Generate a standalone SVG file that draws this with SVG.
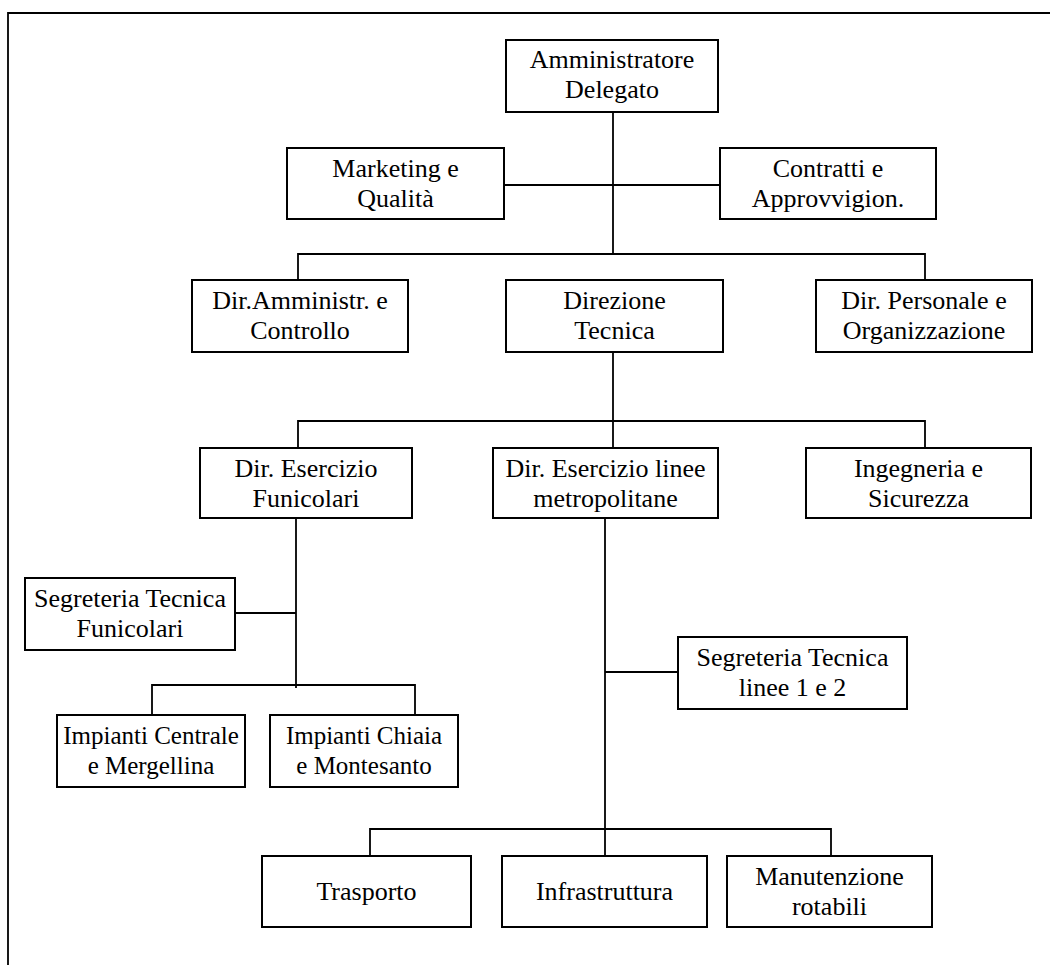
<svg xmlns="http://www.w3.org/2000/svg" width="1050" height="965" viewBox="0 0 1050 965">
<style>
.box{fill:#fff;stroke:#000;stroke-width:2}
.ln{fill:none;stroke:#000;stroke-width:1.8}
text{font-family:"Liberation Serif","Times New Roman",serif;font-size:26px;fill:#000;text-anchor:middle}
.s{font-size:25px}
</style>
<rect x="0" y="0" width="1050" height="965" fill="#fff"/>
<g id="frame"><path class="ln" d="M8,965 V13 H1050" stroke-width="2"/></g>
<g id="connectors">
<path class="ln" d="M613,112 V254"/>
<path class="ln" d="M504,185 H720"/>
<path class="ln" d="M298,280 V254 H925 V280"/>
<path class="ln" d="M613,352 V448"/>
<path class="ln" d="M298,448 V421 H925 V448"/>
<path class="ln" d="M296,518 V688"/>
<path class="ln" d="M235,613 H296"/>
<path class="ln" d="M152,714 V685 H415 V714"/>
<path class="ln" d="M605,518 V856"/>
<path class="ln" d="M605,672 H678"/>
<path class="ln" d="M370,856 V829 H831 V856"/>
</g>
<g id="n-ad"><rect class="box" x="506" y="40" width="212" height="72"/><text x="612" y="68">Amministratore</text><text x="612" y="98">Delegato</text></g>
<g id="n-mq"><rect class="box" x="287" y="148" width="217" height="71"/><text x="395.5" y="177">Marketing e</text><text x="395.5" y="207">Qualità</text></g>
<g id="n-ca"><rect class="box" x="720" y="148" width="216" height="71"/><text x="828" y="177">Contratti e</text><text x="828" y="207">Approvvigion.</text></g>
<g id="n-dac"><rect class="box" x="192" y="280" width="216" height="72"/><text x="300" y="309">Dir.Amministr. e</text><text x="300" y="339">Controllo</text></g>
<g id="n-dt"><rect class="box" x="506" y="280" width="217" height="72"/><text x="614.5" y="309">Direzione</text><text x="614.5" y="339">Tecnica</text></g>
<g id="n-dpo"><rect class="box" x="816" y="280" width="216" height="72"/><text x="924" y="309">Dir. Personale e</text><text x="924" y="339">Organizzazione</text></g>
<g id="n-def"><rect class="box" x="200" y="448" width="212" height="70"/><text x="306" y="477">Dir. Esercizio</text><text x="306" y="507">Funicolari</text></g>
<g id="n-del"><rect class="box" x="493" y="448" width="225" height="70"/><text x="605.5" y="477">Dir. Esercizio linee</text><text x="605.5" y="507">metropolitane</text></g>
<g id="n-is"><rect class="box" x="806" y="448" width="225" height="70"/><text x="918.5" y="477">Ingegneria e</text><text x="918.5" y="507">Sicurezza</text></g>
<g id="n-stf"><rect class="box" x="25" y="578" width="210" height="72"/><text x="130" y="607">Segreteria Tecnica</text><text x="130" y="637">Funicolari</text></g>
<g id="n-icm"><rect class="box" x="57" y="715" width="188" height="72"/><text class="s" x="151" y="744">Impianti Centrale</text><text class="s" x="151" y="774">e Mergellina</text></g>
<g id="n-icmo"><rect class="box" x="270" y="715" width="188" height="72"/><text class="s" x="364" y="744">Impianti Chiaia</text><text class="s" x="364" y="774">e Montesanto</text></g>
<g id="n-stl"><rect class="box" x="678" y="637" width="229" height="72"/><text x="792.5" y="666">Segreteria Tecnica</text><text x="792.5" y="696">linee 1 e 2</text></g>
<g id="n-tr"><rect class="box" x="262" y="856" width="209" height="71"/><text x="366.5" y="900">Trasporto</text></g>
<g id="n-in"><rect class="box" x="502" y="856" width="205" height="71"/><text x="604.5" y="900">Infrastruttura</text></g>
<g id="n-mr"><rect class="box" x="727" y="856" width="205" height="71"/><text x="829.5" y="885">Manutenzione</text><text x="829.5" y="915">rotabili</text></g>
</svg>
